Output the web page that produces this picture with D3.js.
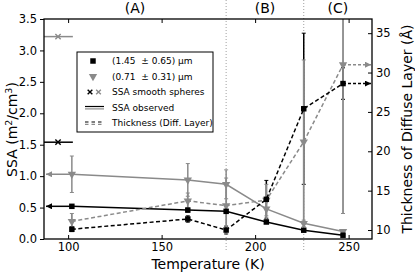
<!DOCTYPE html>
<html>
<head>
<meta charset="utf-8">
<script src="https://cdn.jsdelivr.net/npm/d3@7"></script>
<style>
    body { margin: 0; background: #fff; }
    svg { display: block; font-family: "DejaVu Sans", sans-serif; }
</style>
</head>
<body>
<svg id="chart" width="415" height="277"></svg>
<script>
// measured temperatures (K)
const temps = [102, 164, 184.5, 206, 226, 247];

// SSA (m2/cm3) for the two grain sizes
const ssaLarge = [0.52, 0.46, 0.44, 0.27, 0.14, 0.06];
const ssaLargeErr = [0.02, 0.03, 0.03, 0.02, 0.02, 0.01];
const ssaSmall = [1.03, 0.94, 0.87, 0.48, 0.25, 0.12];
const ssaSmallErr = [0.29, 0.26, 0.23, 0.17, 0.05, 0.03];

// thickness of the diffuse layer (Angstrom)
const thickLarge = [10.1, 11.4, 10.0, 13.9, 25.4, 28.6];
const thickLargeErr = [0.3, 0.4, 0.5, 2.4, 9.6, 2.0];
const thickSmall = [11.1, 13.7, 13.1, 13.8, 21.2, 31.0];
const thickSmallErr = [1.0, 1.0, 3.5, 2.0, 10.4, 18.9];

// SSA of smooth spheres
const smoothTemp = 94.6;
const smoothSSA = [1.54, 3.22];

// region boundaries and labels
const regionBounds = [184.5, 226];
const regionLabels = ["(A)", "(B)", "(C)"];

const xTicks = [100, 150, 200, 250];
const yTicks = [0, 0.5, 1, 1.5, 2, 2.5, 3, 3.5];
const y2Ticks = [10, 15, 20, 25, 30, 35];

const legendLabels = ["(1.45  \u00b1 0.65) \u03bcm", "(0.71  \u00b1 0.31) \u03bcm",
    "SSA smooth spheres", "SSA observed", "Thickness (Diff. Layer)"];

const BLACK = "#000";
const GRAY = "#8a8a8a";

const svg = d3.select("#chart");
const plotL = 44, plotR = 372, plotT = 19, plotB = 239;

const x = d3.scaleLinear().domain([87.1, 262.5]).range([plotL, plotR]);
const y = d3.scaleLinear().domain([0, 3.5]).range([plotB, plotT]);
const y2 = d3.scaleLinear().domain([8.86, 36.8]).range([plotB, plotT]);

const defs = svg.append("defs");
defs.append("clipPath").attr("id", "plot-clip")
    .append("rect").attr("x", plotL).attr("y", plotT)
    .attr("width", plotR - plotL).attr("height", plotB - plotT);

// dotted region separators
svg.selectAll("line.sep").data(regionBounds).enter().append("line")
    .attr("class", "sep")
    .attr("x1", d => x(d)).attr("x2", d => x(d))
    .attr("y1", 0).attr("y2", 252)
    .attr("stroke", "#a0a0a0").attr("stroke-width", 1)
    .attr("stroke-dasharray", "1,2");

// region labels
const edges = [x.domain()[0], ...regionBounds, x.domain()[1]];
svg.selectAll("text.region").data(regionLabels).enter().append("text")
    .attr("class", "region")
    .attr("x", (d, i) => x((edges[i] + edges[i + 1]) / 2))
    .attr("y", 12.5)
    .attr("text-anchor", "middle")
    .attr("font-size", "14px")
    .text(d => d);

const plot = svg.append("g").attr("clip-path", "url(#plot-clip)");

function errorBars(vals, errs, sc, color, width) {
    const g = plot.append("g").attr("stroke", color).attr("stroke-width", width);
    temps.forEach((t, i) => {
        const lo = sc(vals[i] - errs[i]), hi = sc(vals[i] + errs[i]);
        g.append("line").attr("x1", x(t)).attr("x2", x(t)).attr("y1", lo).attr("y2", hi);
        [lo, hi].forEach(yy => g.append("line")
            .attr("x1", x(t) - 2).attr("x2", x(t) + 2).attr("y1", yy).attr("y2", yy)
            .attr("stroke-width", 1));
    });
}

function seriesLine(vals, sc, color, dash) {
    plot.append("path")
        .datum(temps.map((t, i) => [t, vals[i]]))
        .attr("fill", "none")
        .attr("stroke", color)
        .attr("stroke-width", 1.5)
        .attr("stroke-dasharray", dash)
        .attr("d", d3.line().x(d => x(d[0])).y(d => sc(d[1])));
}

const squareSym = d3.symbol().type(d3.symbolSquare).size(30);
const triSym = d3.symbol().type(d3.symbolTriangle).size(30);

function markers(vals, sc, color, kind) {
    plot.append("g").selectAll("path").data(temps.map((t, i) => [t, vals[i]]))
        .enter().append("path")
        .attr("d", kind === "square" ? squareSym : triSym)
        .attr("transform", d => `translate(${x(d[0])},${sc(d[1])})` + (kind === "square" ? "" : " rotate(180)"))
        .attr("fill", color);
}

// error bars
errorBars(ssaLarge, ssaLargeErr, y, BLACK, 1.5);
errorBars(thickLarge, thickLargeErr, y2, BLACK, 1.5);
errorBars(ssaSmall, ssaSmallErr, y, GRAY, 1.5);
errorBars(thickSmall, thickSmallErr, y2, GRAY, 1.8);

// lines
seriesLine(ssaSmall, y, GRAY, null);
seriesLine(ssaLarge, y, BLACK, null);
seriesLine(thickSmall, y2, GRAY, "4,2.5");
seriesLine(thickLarge, y2, BLACK, "4,2.5");

// markers
markers(ssaSmall, y, GRAY, "tri");
markers(thickSmall, y2, GRAY, "tri");
markers(ssaLarge, y, BLACK, "square");
markers(thickLarge, y2, BLACK, "square");

// smooth spheres reference
const smoothColors = [BLACK, GRAY];
smoothSSA.forEach((v, i) => {
    plot.append("line")
        .attr("x1", x(x.domain()[0])).attr("x2", x(temps[0]) + 1)
        .attr("y1", y(v)).attr("y2", y(v))
        .attr("stroke", smoothColors[i]).attr("stroke-width", 1.5);
    plot.append("path")
        .attr("d", d3.symbol().type(d3.symbolX).size(20))
        .attr("transform", `translate(${x(smoothTemp)},${y(v)})`)
        .attr("stroke", smoothColors[i]).attr("stroke-width", 1.4).attr("fill", "none");
});

// arrow heads
[["head-black", BLACK], ["head-gray", GRAY]].forEach(([id, c]) => {
    defs.append("marker").attr("id", id)
        .attr("viewBox", "0 0 10 10").attr("refX", 10).attr("refY", 5)
        .attr("markerWidth", 7).attr("markerHeight", 6)
        .attr("markerUnits", "userSpaceOnUse")
        .attr("orient", "auto")
        .append("path").attr("d", "M0,0L10,5L0,10Z").attr("fill", c);
});

function arrow(x1, y1, x2, color, dash, head) {
    svg.append("line")
        .attr("x1", x1).attr("x2", x2).attr("y1", y1).attr("y2", y1)
        .attr("stroke", color).attr("stroke-width", 1.5)
        .attr("stroke-dasharray", dash)
        .attr("marker-end", `url(#${head})`);
}
// SSA arrows to the left axis
arrow(x(temps[0]), y(ssaSmall[0]), plotL + 2, GRAY, null, "head-gray");
arrow(x(temps[0]), y(ssaLarge[0]), plotL + 2, BLACK, null, "head-black");
// thickness arrows to the right axis
const last = temps.length - 1;
arrow(x(temps[last]), y2(thickSmall[last]), plotR - 1, GRAY, "3,2", "head-gray");
arrow(x(temps[last]), y2(thickLarge[last]), plotR - 1, BLACK, "3,2", "head-black");

// axes
const axisFont = "11.5px";
const gx = svg.append("g").attr("transform", `translate(0,${plotB})`)
    .call(d3.axisBottom(x).tickValues(xTicks).tickSizeInner(-4).tickSizeOuter(0).tickPadding(4));
const gxt = svg.append("g").attr("transform", `translate(0,${plotT})`)
    .call(d3.axisTop(x).tickValues(xTicks).tickSizeInner(-4).tickSizeOuter(0).tickFormat(""));
const gy = svg.append("g").attr("transform", `translate(${plotL},0)`)
    .call(d3.axisLeft(y).tickValues(yTicks).tickSizeInner(4).tickSizeOuter(0).tickPadding(3)
        .tickFormat(d3.format(".1f")));
const gy2 = svg.append("g").attr("transform", `translate(${plotR},0)`)
    .call(d3.axisRight(y2).tickValues(y2Ticks).tickSizeInner(-4).tickSizeOuter(0).tickPadding(4));

[gx, gxt, gy, gy2].forEach(g => {
    g.selectAll("text").attr("font-size", axisFont).attr("fill", "#000")
        .attr("font-family", "DejaVu Sans");
    g.selectAll("line").attr("stroke", "#000").attr("stroke-width", 1);
    g.select(".domain").remove();
});

// frame
svg.append("rect").attr("x", plotL).attr("y", plotT)
    .attr("width", plotR - plotL).attr("height", plotB - plotT)
    .attr("fill", "none").attr("stroke", "#000").attr("stroke-width", 1.3);

// axis labels
svg.append("text").attr("x", (plotL + plotR) / 2).attr("y", 269)
    .attr("text-anchor", "middle").attr("font-size", "14px").text("Temperature (K)");

const yl = svg.append("text").attr("transform", "translate(16.5,129.5) rotate(-90)")
    .attr("text-anchor", "middle").attr("font-size", "14px");
yl.append("tspan").text("SSA (m");
yl.append("tspan").attr("font-size", "9.5px").attr("dy", -5).text("2");
yl.append("tspan").attr("dy", 5).text("/cm");
yl.append("tspan").attr("font-size", "9.5px").attr("dy", -5).text("3");
yl.append("tspan").attr("dy", 5).text(")");

svg.append("text").attr("transform", "translate(411.5,129) rotate(-90)")
    .attr("text-anchor", "middle").attr("font-size", "14px")
    .text("Thickness of Diffuse Layer (\u00c5)");

// legend
const lg = svg.append("g").attr("transform", "translate(77,52)");
lg.append("rect").attr("width", 136).attr("height", 80)
    .attr("fill", "#fff").attr("stroke", "#000").attr("stroke-width", 1);
const rowY = [9, 24.5, 40, 55.5, 71];
lg.selectAll("text").data(legendLabels).enter().append("text")
    .attr("x", 35).attr("y", (d, i) => rowY[i] + 3.3)
    .attr("font-size", "9px").style("white-space", "pre").text(d => d);
lg.append("path").attr("d", squareSym).attr("transform", `translate(16,${rowY[0]})`).attr("fill", BLACK);
lg.append("path").attr("d", triSym).attr("transform", `translate(16,${rowY[1]}) rotate(180)`).attr("fill", GRAY);
smoothColors.forEach((c, i) => {
    lg.append("path").attr("d", d3.symbol().type(d3.symbolX).size(16))
        .attr("transform", `translate(${13 + i * 8.5},${rowY[2]})`)
        .attr("stroke", c).attr("stroke-width", 1.4).attr("fill", "none");
});
smoothColors.forEach((c, i) => {
    lg.append("line").attr("x1", 8).attr("x2", 27)
        .attr("y1", rowY[3] - 1 + i * 2.4).attr("y2", rowY[3] - 1 + i * 2.4)
        .attr("stroke", c).attr("stroke-width", 1.2);
    lg.append("line").attr("x1", 8).attr("x2", 27)
        .attr("y1", rowY[4] - 1 + i * 2.4).attr("y2", rowY[4] - 1 + i * 2.4)
        .attr("stroke", c).attr("stroke-width", 1.2).attr("stroke-dasharray", "3.5,3");
});
</script>
</body>
</html>
